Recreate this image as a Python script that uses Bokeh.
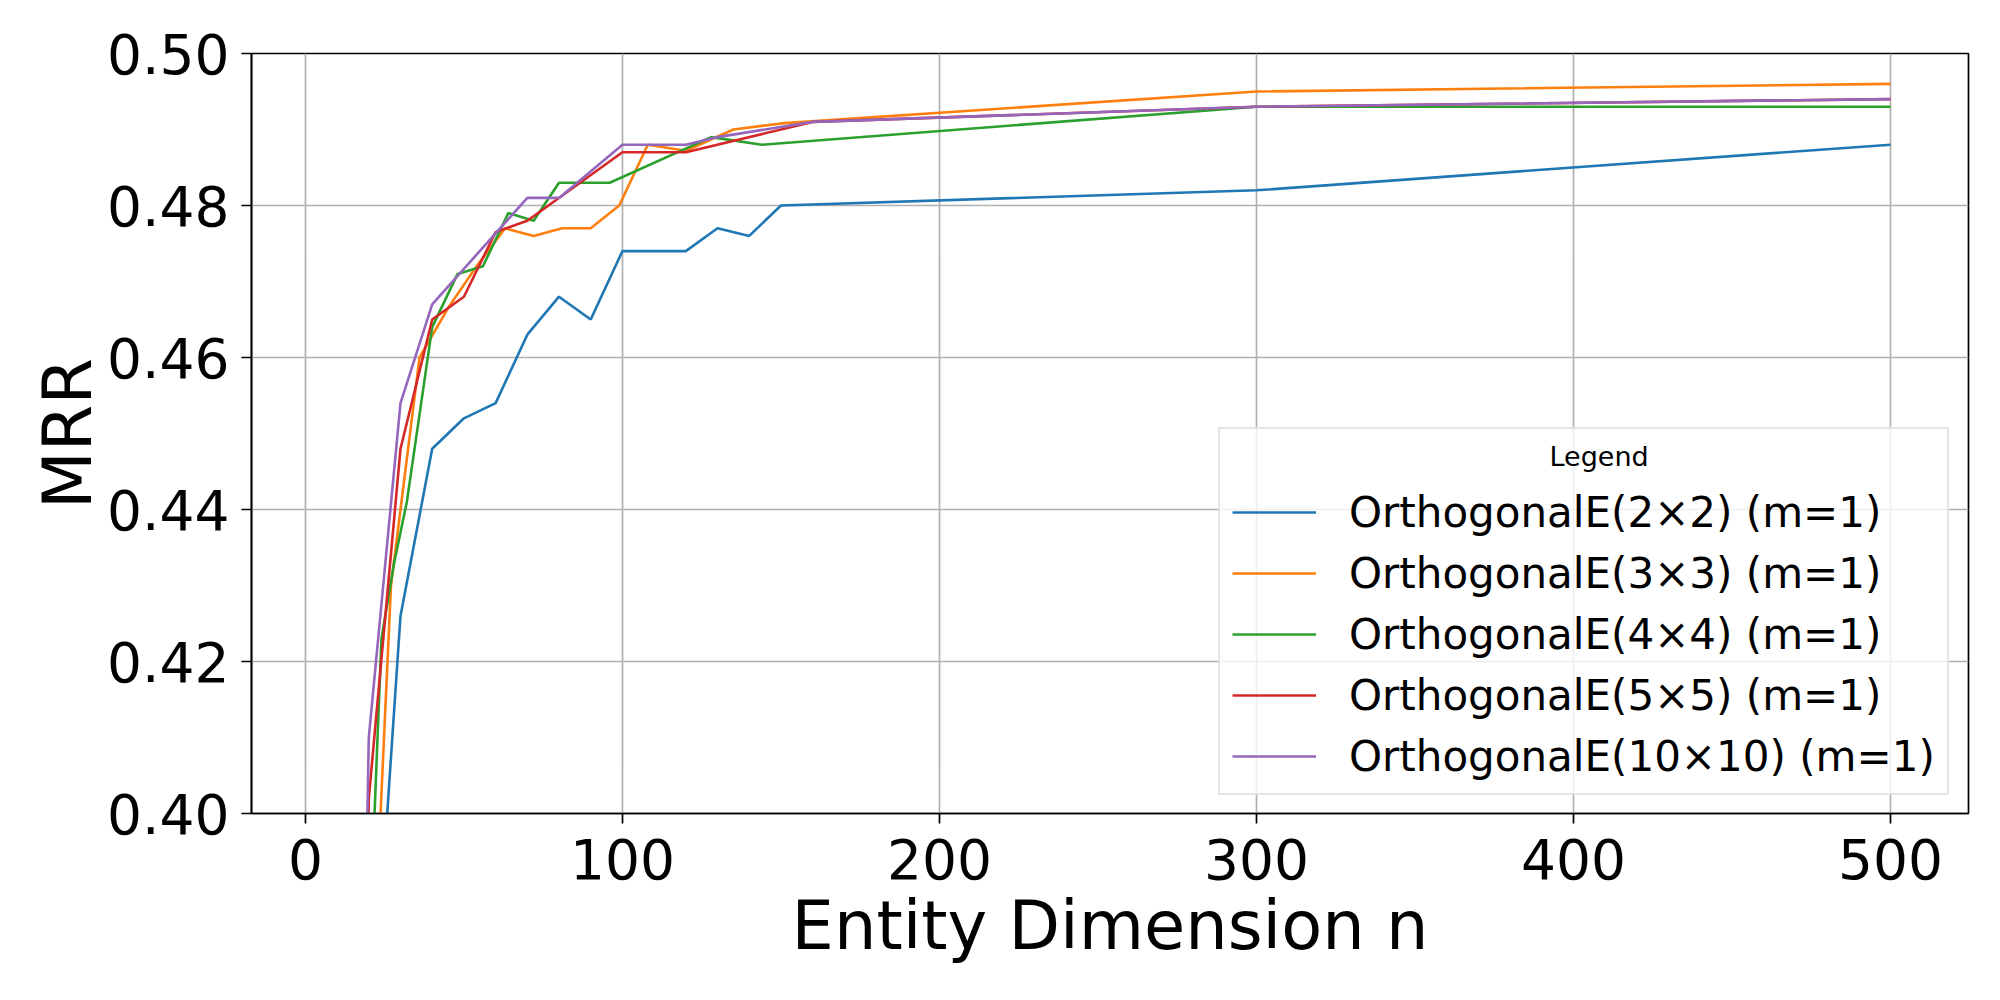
from bokeh.plotting import figure
from bokeh.models import Range1d, FixedTicker, PrintfTickFormatter, Legend, LegendItem
from bokeh.embed import file_html
from bokeh.resources import INLINE

# ---- data ----
labels = ["OrthogonalE(2×2) (m=1)", "OrthogonalE(3×3) (m=1)", "OrthogonalE(4×4) (m=1)",
          "OrthogonalE(5×5) (m=1)", "OrthogonalE(10×10) (m=1)"]
colors = ["#1f77b4", "#ff7f0e", "#2ca02c", "#d62728", "#9467bd"]

n_2x2 = [20, 30, 40, 50, 60, 70, 80, 90, 100, 110, 120, 130, 140, 150, 300, 500]
mrr_2x2 = [0.364, 0.426, 0.448, 0.452, 0.454, 0.463, 0.468, 0.465, 0.474, 0.474, 0.474,
           0.477, 0.476, 0.480, 0.482, 0.488]

n_3x3 = [18, 27, 36, 45, 54, 63, 72, 81, 90, 99, 108, 120, 135, 150, 300, 500]
mrr_3x3 = [0.348, 0.430, 0.460, 0.4665, 0.472, 0.477, 0.476, 0.477, 0.477, 0.480, 0.488,
           0.4872, 0.490, 0.4908, 0.495, 0.496]

n_4x4 = [8, 16, 24, 28, 32, 40, 48, 56, 64, 72, 80, 96, 128, 144, 300, 500]
mrr_4x4 = [0.200, 0.339, 0.423, 0.433, 0.441, 0.464, 0.471, 0.472, 0.479, 0.478, 0.483,
           0.483, 0.489, 0.488, 0.493, 0.493]

n_5x5 = [10, 20, 30, 40, 50, 60, 70, 100, 120, 160, 300, 500]
mrr_5x5 = [0.170, 0.402, 0.448, 0.465, 0.468, 0.4765, 0.478, 0.487, 0.487, 0.491, 0.493, 0.494]

n_10x10 = [10, 20, 30, 40, 70, 80, 100, 120, 130, 160, 300, 500]
mrr_10x10 = [0.180, 0.410, 0.454, 0.467, 0.481, 0.481, 0.488, 0.488, 0.489, 0.491, 0.493, 0.494]

series_n = [n_2x2, n_3x3, n_4x4, n_5x5, n_10x10]
series_v = [mrr_2x2, mrr_3x3, mrr_4x4, mrr_5x5, mrr_10x10]

x_ticks = [0, 100, 200, 300, 400, 500]
y_ticks = [0.40, 0.42, 0.44, 0.46, 0.48, 0.50]
legend_title = "Legend"

FONT = "DejaVu Sans"

p = figure(width=1984, height=984, output_backend="svg", toolbar_location=None,
           x_range=Range1d(-17, 524.6), y_range=Range1d(0.40, 0.50),
           min_border_left=251, min_border_right=16, min_border_top=53, min_border_bottom=171)

renderers = []
for xs, ys, c in zip(series_n, series_v, colors):
    r = p.line(xs, ys, line_color=c, line_width=2.6)
    renderers.append(r)

# axes
p.xaxis.ticker = FixedTicker(ticks=x_ticks)
p.yaxis.ticker = FixedTicker(ticks=y_ticks)
p.yaxis.formatter = PrintfTickFormatter(format="%.2f")
p.xaxis.axis_label = "Entity Dimension n"
p.yaxis.axis_label = "MRR"
for ax in (p.xaxis, p.yaxis):
    ax.axis_label_text_font = FONT
    ax.axis_label_text_font_size = "67px"
    ax.axis_label_text_font_style = "normal"
    ax.axis_label_text_color = "black"
    ax.major_label_text_font = FONT
    ax.major_label_text_font_size = "55px"
    ax.major_label_text_color = "black"
    ax.major_tick_out = 10
    ax.major_tick_in = 0
    ax.minor_tick_out = 0
    ax.minor_tick_in = 0
    ax.major_tick_line_color = "black"
    ax.major_tick_line_width = 1.7
    ax.axis_line_color = "black"
    ax.axis_line_width = 1.7
p.xaxis.major_label_standoff = 15
p.yaxis.major_label_standoff = 12
p.xaxis.axis_label_standoff = 5
p.yaxis.axis_label_standoff = -3

p.grid.grid_line_color = "#b0b0b0"
p.grid.grid_line_width = 1.7
p.outline_line_color = "black"
p.outline_line_width = 1.7
p.background_fill_color = "white"
p.border_fill_color = "white"

# legend title centred (matplotlib style) by padding with non-breaking spaces
legend = Legend(items=[LegendItem(label=l, renderers=[r]) for l, r in zip(labels, renderers)],
                location=(967, 18), title="\u00a0" * 37 + legend_title,
                title_text_font=FONT, title_text_font_size="27px", title_text_font_style="normal",
                title_text_color="black",
                label_text_font=FONT, label_text_font_size="42px", label_text_color="black",
                glyph_width=84, glyph_height=50, label_height=50, spacing=11,
                label_standoff=33, padding=12, margin=0, title_standoff=15,
                border_line_color="#cccccc", border_line_width=2,
                background_fill_color="white", background_fill_alpha=0.8)
p.add_layout(legend)

open("out.html", "w").write(file_html(p, INLINE))
